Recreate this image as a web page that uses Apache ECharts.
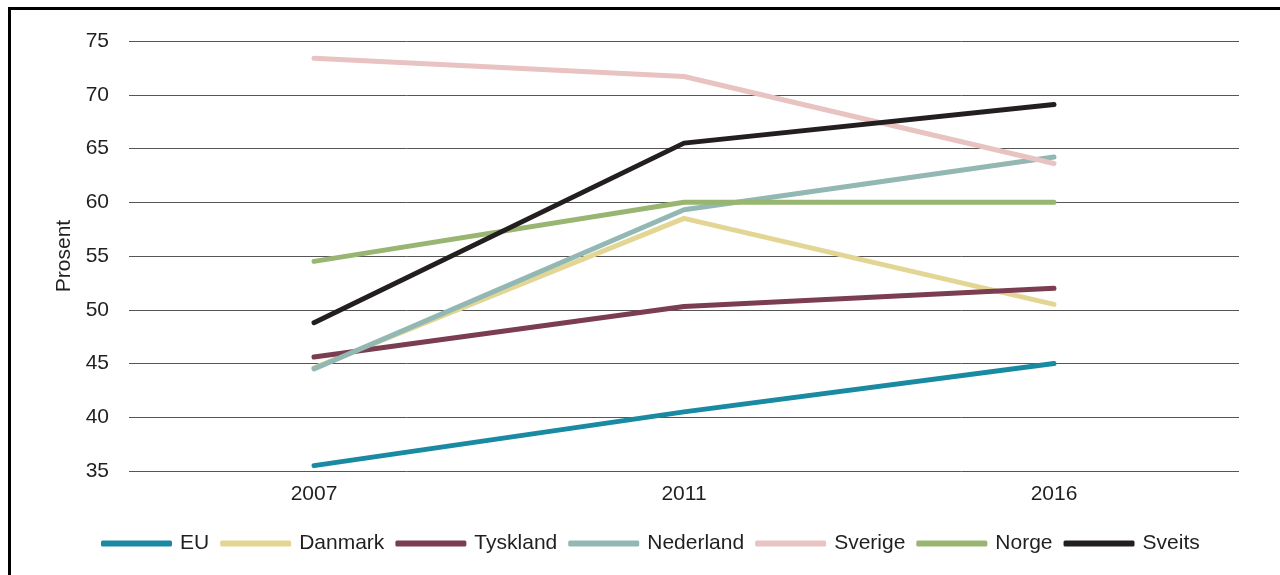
<!DOCTYPE html>
<html><head><meta charset="utf-8">
<script src="https://cdn.jsdelivr.net/npm/echarts@6/dist/echarts.min.js"></script>
<style>
html,body{margin:0;padding:0;background:#fff;}
#c{width:1280px;height:575px;position:absolute;left:0;top:0;}
#frame{position:absolute;left:8px;top:7px;width:1290px;height:600px;border-top:3px solid #000;border-left:3px solid #000;box-sizing:border-box;pointer-events:none;}
</style></head>
<body>
<div id="c"></div>
<div id="frame"></div>
<script>
const years = ['2007', '2011', '2016'];
const seriesNames = ['EU', 'Danmark', 'Tyskland', 'Nederland', 'Sverige', 'Norge', 'Sveits'];
const EU = [35.5, 40.5, 45.0];
const Danmark = [44.6, 58.5, 50.5];
const Tyskland = [45.6, 50.3, 52.0];
const Nederland = [44.5, 59.3, 64.2];
const Sverige = [73.4, 71.7, 63.6];
const Norge = [54.5, 60.0, 60.0];
const Sveits = [48.8, 65.5, 69.1];
const colors = ['#1a8aa3', '#e3d694', '#7b3d50', '#93b8b3', '#e9c2c2', '#98b571', '#231f20'];
const values = [EU, Danmark, Tyskland, Nederland, Sverige, Norge, Sveits];

const chart = echarts.init(document.getElementById('c'));
chart.setOption({
  animation: false,
  textStyle: { fontFamily: "'Liberation Sans', Arial, sans-serif" },
  grid: { left: 129, right: 41, top: 41, bottom: 104 },
  legend: {
    bottom: 16,
    left: 96,
    icon: 'roundRect',
    itemWidth: 71,
    itemHeight: 6,
    itemGap: 11,
    textStyle: { fontSize: 21, color: '#231f20', padding: [0, 0, 0, 3] },
    data: seriesNames
  },
  xAxis: {
    type: 'category',
    data: years,
    boundaryGap: true,
    axisLine: { show: false },
    axisTick: { show: false },
    axisLabel: { fontSize: 21, color: '#231f20', margin: 13 }
  },
  yAxis: {
    type: 'value',
    min: 35, max: 75, interval: 5,
    name: 'Prosent',
    nameLocation: 'middle',
    nameGap: 52,
    nameRotate: 90,
    nameTextStyle: { fontSize: 21, color: '#231f20' },
    axisLine: { show: false },
    axisTick: { show: false },
    axisLabel: { fontSize: 21, color: '#231f20', margin: 20 },
    splitLine: { lineStyle: { color: '#555', width: 1 } }
  },
  series: seriesNames.map((n, i) => ({
    name: n,
    type: 'line',
    data: values[i],
    symbol: 'none',
    color: colors[i],
    lineStyle: { width: 5, color: colors[i], cap: 'round', join: 'round' }
  }))
});
</script>
</body></html>
